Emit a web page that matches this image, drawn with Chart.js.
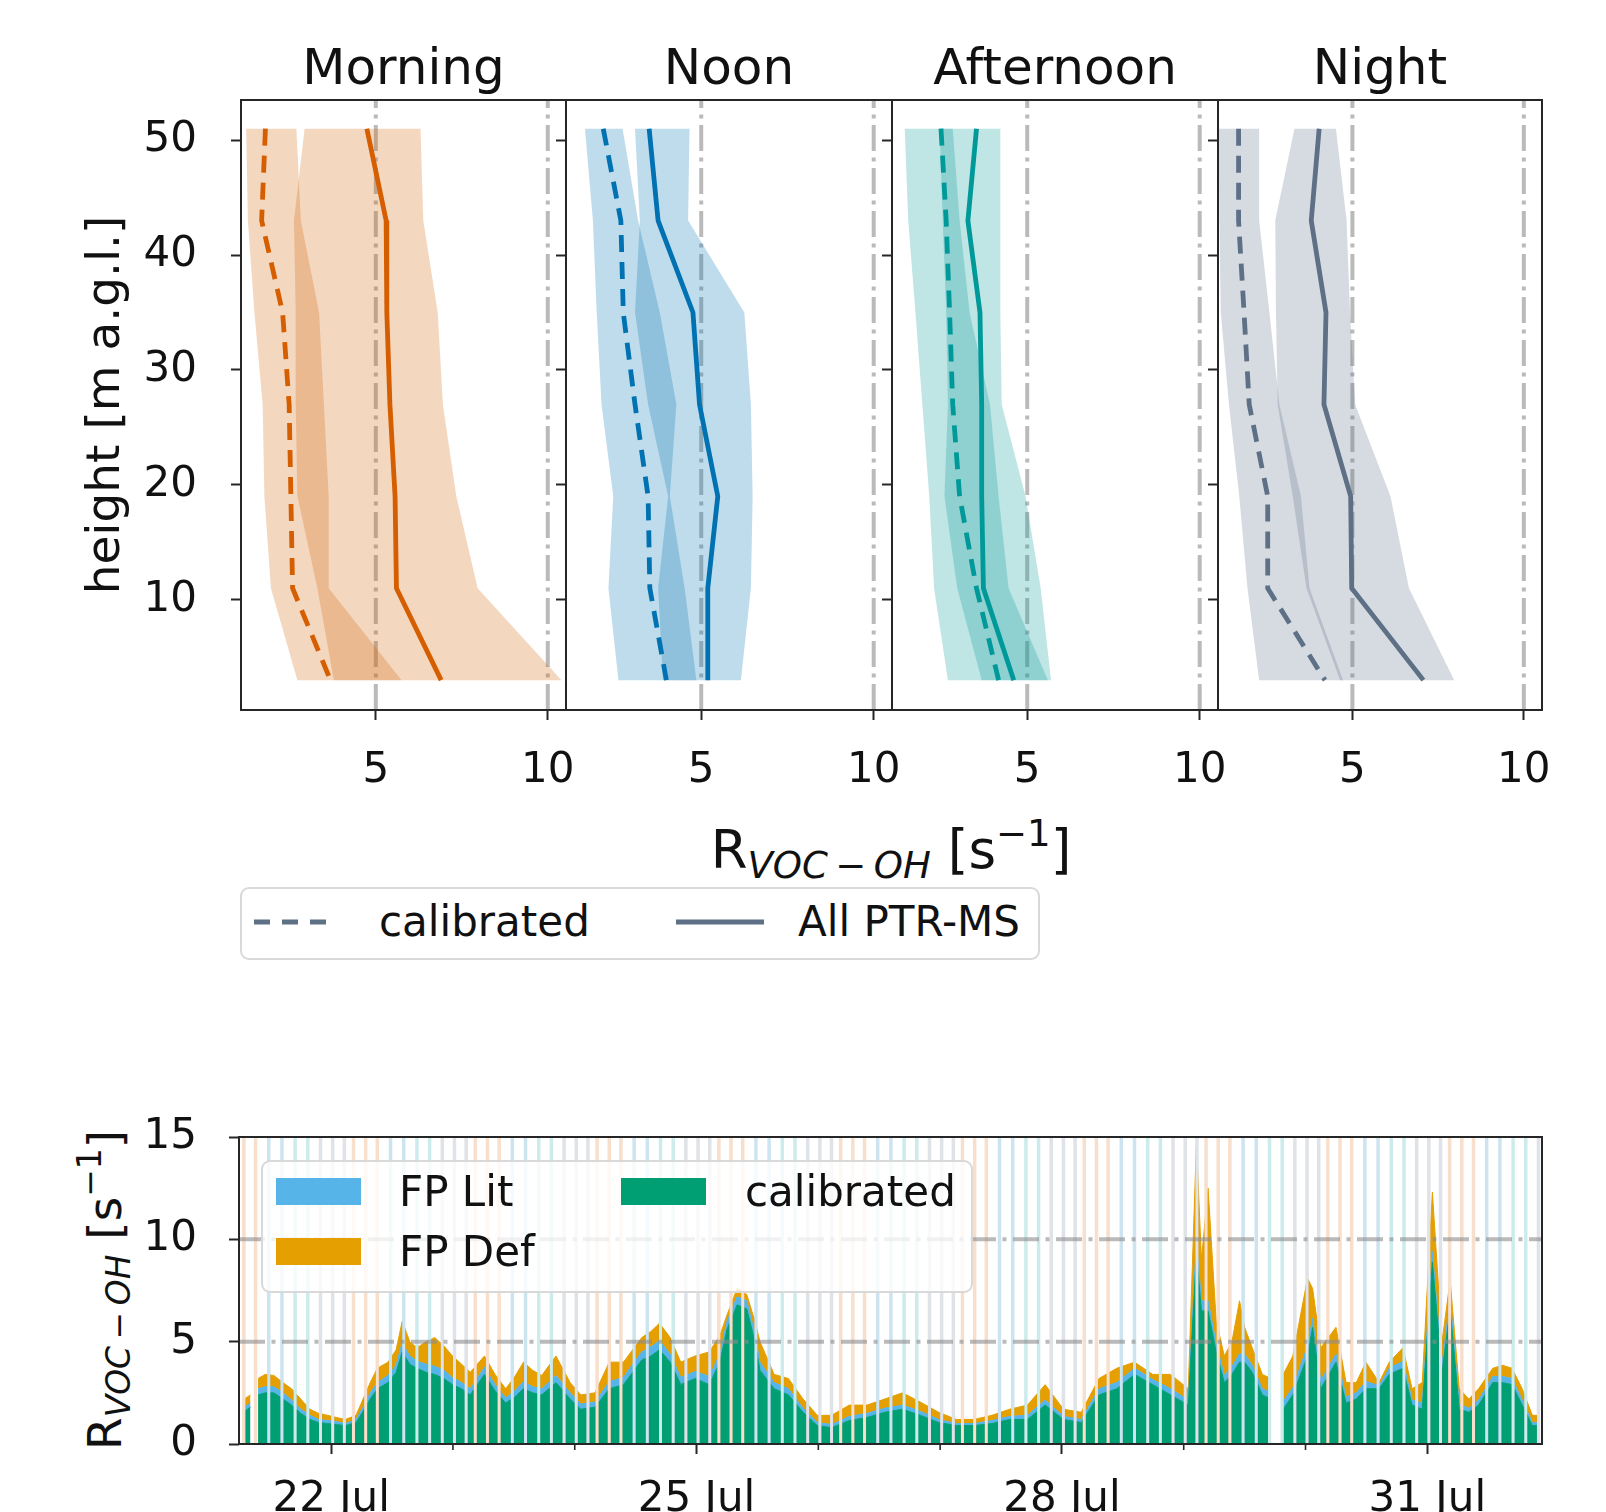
<!DOCTYPE html>
<html>
<head>
<meta charset="utf-8">
<script src="https://cdn.jsdelivr.net/npm/chart.js@4.4.1/dist/chart.umd.min.js"></script>
<style>
  body { margin: 0; background: #fff; }
  #fig { position: relative; width: 1606px; height: 1512px; overflow: hidden; font-family: 'DejaVu Sans', sans-serif; color: #111; }
  #fig canvas { position: absolute; }
  .lbl { position: absolute; font-size: 47px; line-height: 47px; white-space: nowrap; }
  .lbl sub { font-size: 70%; font-style: italic; vertical-align: -0.28em; line-height: 0; }
  .lbl sup { font-size: 70%; vertical-align: 0.6em; line-height: 0; }
  .legend { position: absolute; box-sizing: border-box; background: rgba(255,255,255,0.8); border: 2px solid rgba(210,210,210,0.85); border-radius: 9px; }
  .legend span { position: absolute; font-size: 42px; line-height: 42px; white-space: nowrap; }
  .legend .patch { position: absolute; width: 85px; height: 27px; }
</style>
</head>
<body>
<div id="fig">
  <div class="lbl" style="left:891px; top:823px; font-size:53px; line-height:53px; transform:translateX(-50%);">R<sub>VOC&#8201;&#8722;&#8201;OH</sub> [s<sup>&#8722;1</sup>]</div>
  <div class="lbl" style="left:104px; top:1290px; transform:translate(-50%,-50%) rotate(-90deg);">R<sub>VOC&#8201;&#8722;&#8201;OH</sub> [s<sup>&#8722;1</sup>]</div>
</div>
<script>
// ---- top: vertical profiles (x = R_VOC-OH, y = height) ----
var heights = [51, 43, 35, 27, 19, 11, 3];
var periods = ['Morning', 'Noon', 'Afternoon', 'Night'];
var periodColors = ['#d55e00', '#0072b2', '#009999', '#5d7086'];
var bandColors = ['rgba(213,94,0,0.25)', 'rgba(0,114,178,0.25)', 'rgba(0,153,153,0.25)', 'rgba(93,112,134,0.25)'];
var stripeColors = ['rgba(213,94,0,0.2)', 'rgba(0,114,178,0.2)', 'rgba(0,153,153,0.2)', 'rgba(93,112,134,0.2)'];
var profileXTicks = [5, 10];
var profileYTicks = [10, 20, 30, 40, 50];
var refValues = [5, 10];

var morningCal   = [1.79, 1.68, 2.29, 2.48, 2.53, 2.58, 3.68];
var morningCalLo = [1.23, 1.28, 1.47, 1.71, 1.76, 1.95, 2.72];
var morningCalHi = [2.69, 2.82, 3.35, 3.49, 3.63, 3.63, 5.75];
var morningAll   = [4.74, 5.30, 5.32, 5.41, 5.56, 5.60, 6.90];
var morningAllLo = [2.93, 2.62, 2.67, 2.67, 2.72, 3.30, 3.78];
var morningAllHi = [6.30, 6.38, 6.80, 6.95, 7.34, 7.96, 10.40];

var noonCal   = [2.16, 2.67, 2.74, 3.08, 3.46, 3.51, 3.99];
var noonCalLo = [1.63, 1.86, 1.97, 2.11, 2.45, 2.31, 2.60];
var noonCalHi = [2.72, 3.17, 3.80, 4.28, 4.09, 4.52, 4.86];
var noonAll   = [3.49, 3.75, 4.76, 4.95, 5.48, 5.19, 5.19];
var noonAllLo = [3.08, 3.22, 3.08, 3.46, 4.04, 3.75, 3.89];
var noonAllHi = [4.66, 4.62, 6.25, 6.44, 6.49, 6.44, 6.15];

var afternoonCal   = [2.50, 2.65, 2.75, 2.84, 3.04, 3.53, 4.17];
var afternoonCalLo = [1.45, 1.55, 1.76, 1.96, 2.16, 2.30, 2.70];
var afternoonCalHi = [2.84, 3.04, 3.33, 3.92, 4.17, 4.46, 5.60];
var afternoonAll   = [3.53, 3.28, 3.63, 3.68, 3.68, 3.73, 4.61];
var afternoonAllLo = [2.46, 2.55, 2.65, 2.70, 2.60, 2.97, 3.68];
var afternoonAllHi = [4.22, 4.22, 4.22, 4.26, 4.95, 5.39, 5.69];

var nightCal   = [1.68, 1.68, 1.84, 1.99, 2.53, 2.53, 4.20];
var nightCalLo = [1.10, 1.12, 1.16, 1.40, 1.70, 1.94, 2.28];
var nightCalHi = [2.28, 2.28, 2.58, 2.87, 3.50, 3.75, 4.73];
var nightAll   = [4.03, 3.80, 4.23, 4.17, 4.95, 4.98, 7.07];
var nightAllLo = [3.31, 2.75, 2.77, 2.82, 3.26, 3.66, 4.64];
var nightAllHi = [4.52, 4.83, 4.93, 5.08, 6.11, 6.65, 7.97];

// ---- bottom: time series, hours since 21 Jul 00:00 ----
var hours = [6.9, 8.1, 8.8, 9.6, 11.0, 12.7, 14.5, 16.2, 18.0, 19.8, 21.5, 23.3, 25.0, 26.8, 28.9, 30.3, 31.7, 33.1, 35.2, 36.8,
  38.0, 39.5, 40.9, 42.7, 44.4, 46.2, 47.9, 49.7, 51.4, 54.2, 56.3, 58.4, 60.2, 61.9, 63.7, 65.5, 68.3, 71.1, 73.2, 76.0,
  78.8, 81.6, 83.4, 85.2, 87.0, 88.7, 90.8, 92.9, 95.7, 98.5, 100.6, 102.0, 104.0, 105.9, 107.5, 108.5, 111.3, 114.1, 117.0, 119.8,
  122.6, 126.1, 129.6, 133.1, 136.6, 140.1, 143.7, 147.2, 150.7, 154.2, 157.7, 161.2, 164.7, 168.3, 171.8, 175.3, 178.8, 182.3, 185.9, 189.4,
  192.9, 194.5, 195.5, 196.8, 198.4, 200.0, 201.5, 203.0, 204.0, 205.5, 207.5, 209.2, 210.3, 211.6, 213.5, 216.4, 217.4, 219.0, 222.0, 224.0,
  226.0, 227.9, 230.5, 232.5, 235.2, 237.0, 239.0, 241.0, 242.9, 244.5, 246.3, 248.2, 250.1, 252.9, 254.8, 256.7, 258.7, 260.7, 262.0];
var calibrated = [1.6, 1.8, null, 2.4, 2.5, 2.5, 2.2, 1.9, 1.5, 1.2, 1.05, 1.0, 0.95, 0.9, 1.05, 1.6, 2.2, 2.7, 3.0, 3.5,
  4.5, 3.9, 3.7, 3.5, 3.4, 3.2, 2.9, 2.7, 2.4, 3.4, 2.6, 2.0, 2.3, 2.7, 2.5, 2.4, 3.0, 2.2, 1.7, 1.8,
  2.7, 2.9, 3.5, 4.1, 4.3, 4.6, 4.0, 2.9, 3.2, 2.9, 4.0, 5.6, 6.8, 6.6, 5.0, 3.6, 2.7, 2.4, 1.55, 0.9,
  0.8, 1.15, 1.3, 1.55, 1.7, 1.4, 1.05, 0.9, 0.9, 1.0, 1.2, 1.2, 1.9, 1.2, 1.05, 2.4, 2.7, 3.4, 2.9, 2.4,
  1.9, 9.3, 6.5, 6.5, 4.5, 3.0, 3.4, 4.0, 4.0, 3.5, 2.4, 2.2, null, 1.7, 2.4, 4.3, 5.7, 2.7, 4.0, 2.0,
  2.2, 2.7, 2.7, 3.4, 3.7, 1.9, 1.7, 8.9, 3.5, 6.6, 1.7, 1.55, 1.9, 3.0, 3.0, 2.9, 1.9, 0.9, 0.9];
var fpLit = [0.2, 0.2, null, 0.3, 0.3, 0.3, 0.3, 0.25, 0.2, 0.2, 0.15, 0.15, 0.15, 0.1, 0.15, 0.2, 0.3, 0.3, 0.35, 0.35,
  0.45, 0.4, 0.35, 0.4, 0.4, 0.4, 0.35, 0.3, 0.3, 0.35, 0.3, 0.25, 0.3, 0.35, 0.3, 0.3, 0.35, 0.3, 0.25, 0.25,
  0.35, 0.35, 0.4, 0.4, 0.45, 0.45, 0.4, 0.35, 0.35, 0.4, 0.4, 0.4, 0.4, 0.4, 0.4, 0.4, 0.3, 0.3, 0.2, 0.15,
  0.15, 0.2, 0.2, 0.2, 0.2, 0.2, 0.15, 0.1, 0.1, 0.15, 0.15, 0.2, 0.25, 0.15, 0.15, 0.3, 0.3, 0.3, 0.25, 0.3,
  0.25, 0.6, 0.5, 0.5, 0.4, 0.35, 0.4, 0.4, 0.4, 0.35, 0.3, 0.3, null, 0.4, 0.35, 0.5, 0.45, 0.4, 0.4, 0.3,
  0.3, 0.35, 0.15, 0.3, 0.35, 0.25, 0.3, 0.5, 0.4, 0.5, 0.25, 0.2, 0.25, 0.3, 0.3, 0.3, 0.25, 0.15, 0.15];
var fpDef = [0.4, 0.4, null, 0.5, 0.6, 0.55, 0.5, 0.55, 0.5, 0.3, 0.3, 0.25, 0.2, 0.2, 0.2, 0.4, 0.5, 0.7, 0.65, 0.75,
  1.05, 0.7, 0.65, 1.1, 1.4, 1.2, 1.05, 0.9, 0.8, 0.55, 0.5, 0.45, 0.7, 0.95, 0.8, 0.65, 0.95, 0.5, 0.45, 0.45,
  0.95, 0.75, 0.7, 0.7, 0.75, 0.85, 0.8, 0.75, 0.75, 1.2, 0.9, 0.3, 0.4, 0.3, 0.6, 1.0, 0.4, 0.5, 0.45, 0.35,
  0.45, 0.55, 0.4, 0.45, 0.6, 0.45, 0.35, 0.2, 0.2, 0.25, 0.35, 0.5, 0.75, 0.35, 0.35, 0.5, 0.7, 0.3, 0.25, 0.7,
  0.55, 4.8, 2.0, 5.5, 1.1, 0.95, 1.2, 2.6, 1.3, 0.85, 0.7, 0.7, null, 1.3, 1.55, 3.3, 1.45, 1.6, 1.3, 0.7,
  0.5, 0.95, 0.15, 0.3, 0.65, 0.55, 1.0, 2.9, 1.1, 0.9, 0.75, 0.45, 0.55, 0.4, 0.55, 0.5, 0.55, 0.35, 0.35];
var seriesColors = ['#009e73', '#56b4e9', '#e69f00'];
var tickHours = [24, 96, 168, 240];
var tickLabels = ['22 Jul', '25 Jul', '28 Jul', '31 Jul'];
var minorTickHours = [48, 72, 120, 144, 192, 216];
// profile sampling slots seen as thin coloured stripes (hour of day, period index)
var profileSlotHours = [0.3, 2.6, 4.4, 6.8, 9.1, 11.7, 14.3, 16.9, 19.4, 21.9];
var profileSlotPeriod = [3, 3, 0, 0, 0, 1, 1, 2, 2, 3];
var campaignDays = 11;

Chart.defaults.font.family = "'DejaVu Sans', sans-serif";
Chart.defaults.color = '#111';
Chart.defaults.animation = false;
Chart.defaults.responsive = false;
Chart.defaults.devicePixelRatio = 1;
Chart.defaults.plugins.legend.display = false;
Chart.defaults.plugins.tooltip.enabled = false;

var fig = document.getElementById('fig');

function drawRefLines(chart, values, axis) {
  var ctx = chart.ctx, a = chart.chartArea;
  ctx.save();
  ctx.strokeStyle = 'rgba(140,140,140,0.6)';
  ctx.lineWidth = 4;
  ctx.setLineDash([26, 6.5, 4, 6.5]);
  values.forEach(function(v) {
    ctx.beginPath();
    if (axis === 'x') {
      var px = chart.scales.x.getPixelForValue(v);
      ctx.moveTo(px, a.bottom);
      ctx.lineTo(px, a.top);
    } else {
      var py = chart.scales.y.getPixelForValue(v);
      ctx.moveTo(a.left, py);
      ctx.lineTo(a.right, py);
    }
    ctx.stroke();
  });
  ctx.restore();
}

var framePlugin = {
  id: 'frame',
  afterDraw: function(chart) {
    var a = chart.chartArea, ctx = chart.ctx;
    ctx.save();
    ctx.strokeStyle = '#262626';
    ctx.lineWidth = 2;
    ctx.strokeRect(a.left, a.top, a.right - a.left, a.bottom - a.top);
    ctx.restore();
  }
};

var refLinePlugin = {
  id: 'refLines',
  beforeDatasetsDraw: function(chart) { drawRefLines(chart, refValues, 'x'); }
};

function toPoints(xs) {
  return xs.map(function(x, i) { return {x: x, y: heights[i]}; });
}
function toBand(lo, hi) {
  return toPoints(lo).concat(toPoints(hi).reverse());
}

var profiles = [
  {cal: morningCal, calLo: morningCalLo, calHi: morningCalHi, all: morningAll, allLo: morningAllLo, allHi: morningAllHi},
  {cal: noonCal, calLo: noonCalLo, calHi: noonCalHi, all: noonAll, allLo: noonAllLo, allHi: noonAllHi},
  {cal: afternoonCal, calLo: afternoonCalLo, calHi: afternoonCalHi, all: afternoonAll, allLo: afternoonAllLo, allHi: afternoonAllHi},
  {cal: nightCal, calLo: nightCalLo, calHi: nightCalHi, all: nightAll, allLo: nightAllLo, allHi: nightAllHi}
];

var edges = [241, 566, 892, 1218, 1542];
var gridOpts = {drawOnChartArea: false, drawTicks: true, tickLength: 10, tickWidth: 2, tickColor: '#262626'};

periods.forEach(function(name, i) {
  var left = edges[i], right = edges[i + 1];
  var cLeft = i === 0 ? 0 : left - 30;
  var axisW = left - cLeft;
  var cv = document.createElement('canvas');
  cv.width = right - cLeft + 40;
  cv.height = 800;
  cv.style.left = cLeft + 'px';
  cv.style.top = '0px';
  fig.appendChild(cv);
  var p = profiles[i];
  var col = periodColors[i];
  new Chart(cv, {
    type: 'scatter',
    data: {
      datasets: [
        {label: 'calibrated', data: toPoints(p.cal), showLine: true, borderColor: col, borderWidth: 4.8, borderDash: [17, 10], pointRadius: 0, fill: false, order: 0},
        {label: 'All PTR-MS', data: toPoints(p.all), showLine: true, borderColor: col, borderWidth: 4.8, pointRadius: 0, fill: false, order: 0},
        {label: 'calibrated range', data: toBand(p.calLo, p.calHi), showLine: true, borderColor: 'rgba(0,0,0,0)', borderWidth: 0, backgroundColor: bandColors[i], pointRadius: 0, fill: 'shape', order: 1},
        {label: 'All range', data: toBand(p.allLo, p.allHi), showLine: true, borderColor: 'rgba(0,0,0,0)', borderWidth: 0, backgroundColor: bandColors[i], pointRadius: 0, fill: 'shape', order: 1}
      ]
    },
    options: {
      layout: {padding: {left: 0, right: 40, top: 0, bottom: 0}},
      plugins: {
        title: {display: true, text: name, fullSize: false, color: '#111', font: {size: 50, weight: 'normal', lineHeight: 1}, padding: {top: 46, bottom: 4}}
      },
      scales: {
        x: {
          type: 'linear', min: 1.08, max: 10.53,
          border: {display: false}, grid: gridOpts,
          ticks: {font: {size: 42}, padding: 26, maxRotation: 0, color: '#111'},
          afterBuildTicks: function(s) { s.ticks = profileXTicks.map(function(v) { return {value: v}; }); },
          afterFit: function(s) { s.height = 90; }
        },
        y: {
          type: 'linear', min: 0.4, max: 53.5,
          border: {display: false}, grid: gridOpts,
          ticks: {display: i === 0, font: {size: 42}, padding: 34, color: '#111'},
          title: {display: i === 0, text: 'height [m a.g.l.]', color: '#111', font: {size: 47}, padding: {top: 79, bottom: 0}},
          afterBuildTicks: function(s) { s.ticks = profileYTicks.map(function(v) { return {value: v}; }); },
          afterFit: function(s) { s.width = axisW; }
        }
      }
    },
    plugins: [refLinePlugin, framePlugin]
  });
});

// ---- bottom chart ----
function series(values) {
  return hours.map(function(h, i) { return {x: h, y: values[i]}; });
}

var stripePlugin = {
  id: 'stripes',
  afterDatasetsDraw: function(chart) {
    var ctx = chart.ctx, a = chart.chartArea, xs = chart.scales.x;
    ctx.save();
    for (var d = 0; d < campaignDays; d++) {
      profileSlotHours.forEach(function(hh, k) {
        var h = d * 24 + hh;
        if (h < 6.5 || h > xs.max) return;
        var px = xs.getPixelForValue(h);
        ctx.fillStyle = '#ffffff';
        ctx.fillRect(px - 1.5, a.top, 3, a.bottom - a.top);
        ctx.fillStyle = stripeColors[profileSlotPeriod[k]];
        ctx.fillRect(px - 1.75, a.top, 3.5, a.bottom - a.top);
      });
    }
    ctx.restore();
    drawRefLines(chart, refValues, 'y');
  },
  afterDraw: function(chart) {
    var ctx = chart.ctx, a = chart.chartArea, xs = chart.scales.x;
    ctx.save();
    ctx.strokeStyle = '#262626';
    ctx.lineWidth = 1.6;
    minorTickHours.forEach(function(h) {
      var px = xs.getPixelForValue(h);
      ctx.beginPath();
      ctx.moveTo(px, a.bottom);
      ctx.lineTo(px, a.bottom + 6);
      ctx.stroke();
    });
    ctx.restore();
  }
};

var bcv = document.createElement('canvas');
bcv.width = 1606;
bcv.height = 512;
bcv.style.left = '0px';
bcv.style.top = '1000px';
fig.appendChild(bcv);

new Chart(bcv, {
  type: 'line',
  data: {
    datasets: [
      {label: 'calibrated', data: series(calibrated), backgroundColor: seriesColors[0], borderColor: seriesColors[0], borderWidth: 1, pointRadius: 0, fill: 'origin'},
      {label: 'FP Lit', data: series(fpLit), backgroundColor: seriesColors[1], borderColor: seriesColors[1], borderWidth: 1, pointRadius: 0, fill: '-1'},
      {label: 'FP Def', data: series(fpDef), backgroundColor: seriesColors[2], borderColor: seriesColors[2], borderWidth: 1, pointRadius: 0, fill: '-1'}
    ]
  },
  options: {
    layout: {padding: {left: 0, right: 64, top: 137, bottom: 0}},
    scales: {
      x: {
        type: 'linear', min: 5.84, max: 262.6,
        border: {display: false}, grid: gridOpts,
        ticks: {font: {size: 42}, padding: 21, maxRotation: 0, autoSkip: false, color: '#111',
          callback: function(v) { var k = tickHours.indexOf(v); return k < 0 ? '' : tickLabels[k]; }},
        afterBuildTicks: function(s) { s.ticks = tickHours.map(function(v) { return {value: v}; }); },
        afterFit: function(s) { s.height = 68; }
      },
      y: {
        type: 'linear', stacked: true, min: 0, max: 15,
        border: {display: false}, grid: gridOpts,
        ticks: {font: {size: 42}, padding: 32, color: '#111'},
        afterBuildTicks: function(s) { s.ticks = [0, 5, 10, 15].map(function(v) { return {value: v}; }); },
        afterFit: function(s) { s.width = 239; }
      }
    }
  },
  plugins: [stripePlugin, framePlugin]
});
</script>
<div class="legend" style="left:240px; top:887px; width:800px; height:73px; z-index:5;">
  <svg width="796" height="69" style="position:absolute; left:0; top:0;">
    <line x1="12" y1="33" x2="96" y2="33" stroke="#5d7086" stroke-width="5" stroke-dasharray="16 12"/>
    <line x1="434" y1="33" x2="522" y2="33" stroke="#5d7086" stroke-width="5"/>
  </svg>
  <span style="left:137px; top:12px;">calibrated</span>
  <span style="left:556px; top:12px;">All PTR-MS</span>
</div>
<div class="legend" style="left:261px; top:1160px; width:712px; height:133px; z-index:5;">
  <div class="patch" style="left:13px; top:16px; background:#56b4e9;"></div>
  <span style="left:136px; top:9px;">FP Lit</span>
  <div class="patch" style="left:13px; top:76px; background:#e69f00;"></div>
  <span style="left:136px; top:69px;">FP Def</span>
  <div class="patch" style="left:358px; top:16px; background:#009e73;"></div>
  <span style="left:482px; top:9px;">calibrated</span>
</div>
<script>
// legends sit in the figure container
var figEl = document.getElementById('fig');
document.querySelectorAll('body > .legend').forEach(function(el) { figEl.appendChild(el); });
</script>
</body>
</html>
